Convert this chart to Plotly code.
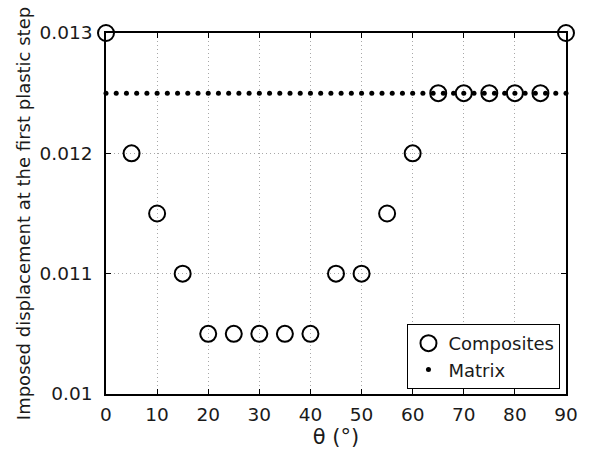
import plotly.graph_objects as go

# Fibre orientation angles (degrees) and displacement at first plastic step
theta = [0, 5, 10, 15, 20, 25, 30, 35, 40, 45, 50, 55, 60, 65, 70, 75, 80, 85, 90]
composites = [0.013, 0.012, 0.0115, 0.011, 0.0105, 0.0105, 0.0105, 0.0105, 0.0105,
              0.011, 0.011, 0.0115, 0.012, 0.0125, 0.0125, 0.0125, 0.0125, 0.0125, 0.013]

# Matrix reference value, sampled every 2 degrees
matrix_theta = list(range(0, 91, 2))
matrix_value = 0.0125

x_ticks = [0, 10, 20, 30, 40, 50, 60, 70, 80, 90]
y_ticks = [0.01, 0.011, 0.012, 0.013]
y_tick_labels = ["0.01", "0.011", "0.012", "0.013"]

font = "DejaVu Sans, Liberation Sans, Arial, sans-serif"
ink = "#1a1a1a"

fig = go.Figure()
fig.add_trace(go.Scatter(
    x=theta, y=composites, mode="markers", name="Composites",
    marker=dict(symbol="circle-open", size=16, color="black", line=dict(width=2)),
    cliponaxis=False,
))
fig.add_trace(go.Scatter(
    x=matrix_theta, y=[matrix_value] * len(matrix_theta), mode="markers", name="Matrix",
    marker=dict(symbol="circle", size=5, color="black"),
    cliponaxis=False,
))

axis_common = dict(
    showline=True, linecolor="black", linewidth=1.5, mirror="ticks",
    ticks="inside", ticklen=5, tickcolor="black", tickwidth=1,
    showgrid=True, gridcolor="#a8a8a8", griddash="1px,3px", gridwidth=1,
    zeroline=False, tickfont=dict(family=font, size=18.5, color=ink),
)

fig.update_xaxes(range=[0, 90], tickvals=x_ticks, ticklabelstandoff=3,
                 title=dict(text="θ (°)", font=dict(family=font, size=21, color=ink), standoff=2),
                 **axis_common)
fig.update_yaxes(range=[0.01, 0.013], tickvals=y_ticks, ticktext=y_tick_labels,
                 ticklabelstandoff=8,
                 title=dict(text="Imposed displacement at the first plastic step",
                            font=dict(family=font, size=18, color=ink), standoff=4),
                 **axis_common)

fig.update_layout(
    width=590, height=454,
    margin=dict(l=106, r=22, t=33, b=60),
    paper_bgcolor="white", plot_bgcolor="white",
    legend=dict(x=0.988, y=0.014, xanchor="right", yanchor="bottom",
                bgcolor="white", bordercolor="black", borderwidth=1,
                font=dict(family=font, size=18, color=ink),
                tracegroupgap=0, itemsizing="trace", itemwidth=30),
)

fig.write_html("out.html")
